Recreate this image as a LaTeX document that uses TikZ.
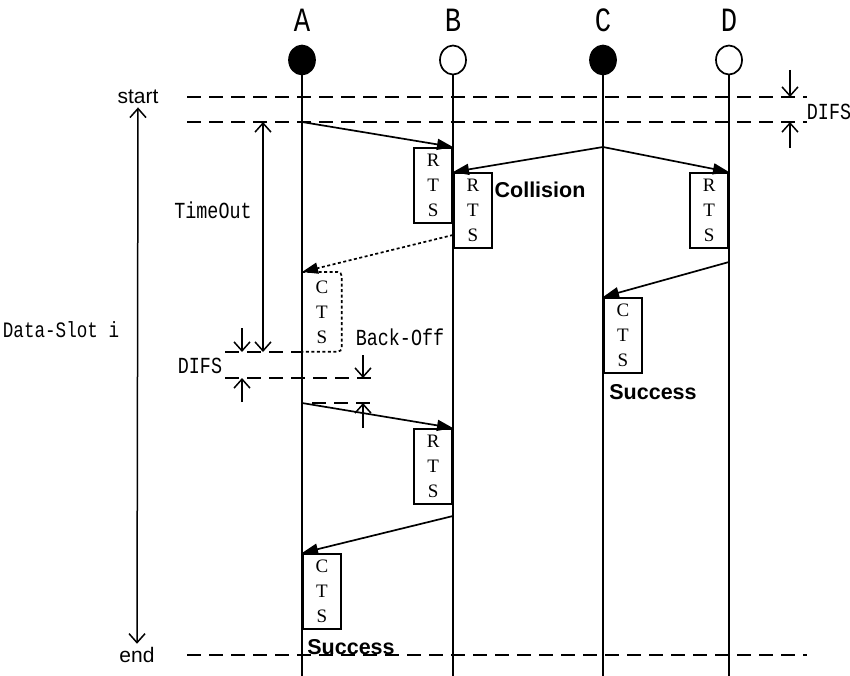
\documentclass[tikz,border=0pt]{standalone}
\usepackage{fontspec}
\setmainfont{Liberation Serif}
\setsansfont{Liberation Sans}
\newfontfamily\simfont[FakeStretch=0.8]{Liberation Mono}
\usepackage{tikz}
\usetikzlibrary{arrows.meta, shapes.geometric, positioning}

\begin{document}
\begin{tikzpicture}[x=1pt, y=-1pt,
    barb/.tip={Straight Barb[length=9pt, width=16pt]},
    station/.style={draw, ellipse, line width=1.7pt, minimum width=26pt, minimum height=29pt, inner sep=0pt},
    lifeline/.style={line width=1.7pt},
    slotline/.style={line width=1.7pt, dash pattern=on 14pt off 8pt},
    msg/.style={line width=1.7pt, -{Triangle[length=16pt, width=11pt]}},
    dimline/.style={line width=1.5pt},
    pkt/.style={draw, line width=1.7pt, minimum width=38pt, minimum height=75pt, inner sep=0pt, align=center, font=\fontsize{19}{25}\selectfont},
    txt/.style={font=\simfont\fontsize{23}{23}\selectfont},
    tag/.style={font=\sffamily\bfseries\fontsize{21.5}{22}\selectfont}]
    \useasboundingbox (0,0) rectangle (850,676);
    % stations and their time lines
    \foreach \st/\x/\col in {A/302/black, B/453/white, C/603/black, D/729/white} {
        \node [txt, font=\simfont\fontsize{34}{34}\selectfont] (name\st) at (\x,20) {\st};
        \node [station, fill=\col] (\st) at (\x,60) {};
        \draw [lifeline] (\st.south) -- (\x,676);
    }
    % slot boundaries
    \draw [slotline] (187,97) -- (807,97);
    \draw [slotline] (187,122) -- (807,122);
    \draw [slotline] (187,655) -- (807,655);
    \node [font=\sffamily\fontsize{21}{21}\selectfont] (start) at (138,97) {start};
    \node [font=\sffamily\fontsize{21}{21}\selectfont] (end) at (137,655) {end};
    \draw [dimline, barb-barb] (start.south) -- (end.north);
    \node [txt, font=\simfont\fontsize{22}{22}\selectfont] (slot) at (61,330) {Data-Slot i};
    \node [txt] (difsR) at (829,112) {DIFS};
    \draw [dimline, -barb] (790,70) -- (790,97);
    \draw [dimline, -barb] (790,148) -- (790,122);
    % RTS from A and C
    \node [pkt, anchor=north east] (rtsA) at (453,147) {R\\T\\S};
    \node [pkt, anchor=north west] (rtsC) at (453,172) {R\\T\\S};
    \node [pkt, anchor=north east] (rtsCd) at (729,172) {R\\T\\S};
    \coordinate (sendA) at (302,122);
    \coordinate (sendC) at (603,147);
    \draw [msg] (sendA) -- (rtsA.north east);
    \draw [msg] (sendC) -- (rtsC.north west);
    \draw [msg] (sendC) -- (rtsCd.north east);
    \node [tag] (coll) at (540,190) {Collision};
    % lost CTS and time out
    \node [pkt, draw=none, anchor=north west, minimum height=78pt] (ctsB) at (302,272) {C\\T\\S};
    \draw [line width=1.7pt, dash pattern=on 3pt off 2.5pt, rounded corners=4pt] (ctsB.north west) -- (ctsB.north east) -- (ctsB.south east) -- (ctsB.south west);
    \coordinate (replyB) at (453,235);
    \draw [msg, dash pattern=on 3pt off 2.5pt] (replyB) -- (ctsB.north west);
    \node [txt] (timeout) at (213,210) {TimeOut};
    \draw [dimline, barb-barb] (263,122) -- (263,352);
    % CTS from D
    \node [pkt, anchor=north west] (ctsD) at (603,297) {C\\T\\S};
    \coordinate (replyD) at (729,262);
    \draw [msg] (replyD) -- (ctsD.north west);
    \node [tag] (succC) at (653,392) {Success};
    % DIFS and back-off of A
    \draw [slotline] (225,352) -- (302,352);
    \draw [slotline] (225,378) -- (377,378);
    \draw [slotline] (312,403) -- (377,403);
    \node [txt] (difsL) at (200,366) {DIFS};
    \draw [dimline, -barb] (242,328) -- (242,352);
    \draw [dimline, -barb] (242,402) -- (242,378);
    \node [txt] (backoff) at (400,337) {Back-Off};
    \draw [dimline, -barb] (363,355) -- (363,378);
    \draw [dimline, -barb] (363,428) -- (363,403);
    % second try of A
    \node [pkt, anchor=north east] (rtsA2) at (453,428) {R\\T\\S};
    \node [pkt, anchor=north west] (ctsB2) at (302,553) {C\\T\\S};
    \coordinate (sendA2) at (302,403);
    \coordinate (replyB2) at (453,516);
    \draw [msg] (sendA2) -- (rtsA2.north east);
    \draw [msg] (replyB2) -- (ctsB2.north west);
    \node [tag] (succA) at (351,647) {Success};
\end{tikzpicture}
\end{document}
